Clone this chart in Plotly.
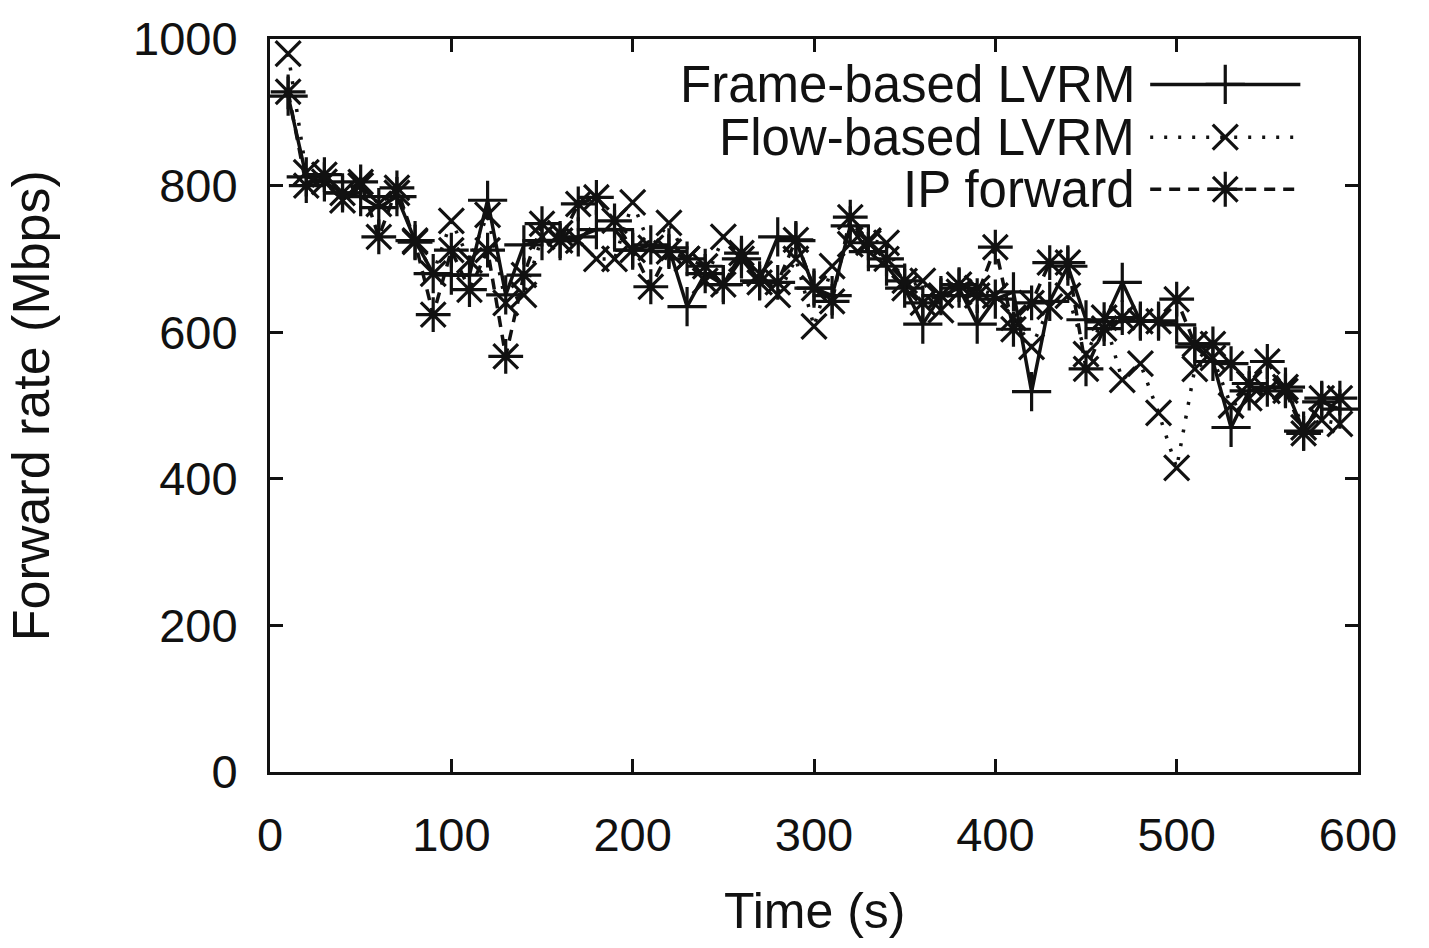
import plotly.graph_objects as go

# ---- data ----
time_s = [10, 20, 30, 40, 50, 60, 70, 80, 90, 100,
          110, 120, 130, 140, 150, 160, 170, 180, 190, 200,
          210, 220, 230, 240, 250, 260, 270, 280, 290, 300,
          310, 320, 330, 340, 350, 360, 370, 380, 390, 400,
          410, 420, 430, 440, 450, 460, 470, 480, 490, 500,
          510, 520, 530, 540, 550, 560, 570, 580, 590]

frame_based = [922, 812, 805, 790, 785, 770, 785, 725, 680, 678,
               678, 780, 651, 719, 725, 725, 730, 740, 740, 712,
               719, 715, 635, 680, 665, 700, 670, 730, 725, 660,
               650, 745, 710, 690, 660, 611, 650, 660, 611, 645,
               655, 519, 642, 690, 617, 614, 668, 615, 615, 610,
               580, 560, 470, 520, 525, 525, 465, 505, 495]

flow_based = [980, 818, 805, 780, 800, 775, 790, 725, 680, 752,
              698, 760, 640, 651, 730, 735, 725, 700, 700, 777,
              715, 749, 700, 670, 730, 700, 680, 651, 700, 608,
              690, 720, 725, 722, 660, 670, 630, 655, 660, 650,
              620, 580, 635, 650, 570, 620, 535, 557, 490, 415,
              550, 565, 500, 510, 520, 525, 470, 480, 475]

ip_forward = [928, 800, 815, 790, 805, 730, 797, 723, 624, 712,
              658, 712, 567, 678, 748, 725, 775, 784, 752, 712,
              662, 710, 700, 690, 665, 708, 668, 668, 726, 660,
              642, 757, 722, 700, 670, 640, 650, 665, 650, 716,
              604, 640, 695, 695, 550, 605, 620, 615, 615, 645,
              584, 584, 557, 530, 560, 520, 462, 510, 510]

series_names = ["Frame-based LVRM", "Flow-based LVRM", "IP forward"]

x_ticks = [0, 100, 200, 300, 400, 500, 600]
y_ticks = [0, 200, 400, 600, 800, 1000]

FONT = "Liberation Sans, Arial, sans-serif"
BLACK = "#111111"

styles = [
    dict(dash="solid", symbol="cross-thin-open", size=28),
    dict(dash="3px,11px", symbol="x-thin-open", size=25),
    dict(dash="11px,8px", symbol="asterisk-open", size=29),
]
values = [frame_based, flow_based, ip_forward]

fig = go.Figure()
for name, vals, st in zip(series_names, values, styles):
    fig.add_trace(go.Scatter(
        x=time_s, y=vals, mode="lines+markers", name=name,
        line=dict(color=BLACK, width=3.5, dash=st["dash"]),
        marker=dict(symbol=st["symbol"], size=st["size"], color=BLACK,
                    line=dict(color=BLACK, width=3.2)),
        showlegend=False,
    ))

# ---- custom legend (text right-aligned, sample to the right of text) ----
legend_y = [0.938, 0.866, 0.795]
for name, st, ly in zip(series_names, styles, legend_y):
    fig.add_trace(go.Scatter(
        x=[0.809, 0.878, 0.947], y=[ly, ly, ly], xaxis="x2", yaxis="y2",
        mode="lines", line=dict(color=BLACK, width=3.5, dash=st["dash"]),
        showlegend=False, hoverinfo="skip",
    ))
    fig.add_trace(go.Scatter(
        x=[0.878], y=[ly], xaxis="x2", yaxis="y2", mode="markers",
        marker=dict(symbol=st["symbol"], size=st["size"], color=BLACK,
                    line=dict(color=BLACK, width=3.2)),
        showlegend=False, hoverinfo="skip",
    ))
    fig.add_annotation(
        x=0.797, y=ly, xref="paper", yref="paper", xanchor="right", yanchor="middle",
        text=name, showarrow=False, font=dict(family=FONT, size=51, color=BLACK),
    )

axis_common = dict(
    showgrid=False, zeroline=False, showline=True, linecolor=BLACK, linewidth=3,
    mirror="ticks", ticks="inside", ticklen=13, tickwidth=2.5, tickcolor=BLACK,
    tickfont=dict(family=FONT, size=47, color=BLACK),
)

fig.update_layout(
    width=1429, height=948,
    margin=dict(l=270, r=71, t=32, b=176),
    paper_bgcolor="white", plot_bgcolor="white",
    xaxis=dict(range=[0, 600], tickvals=x_ticks, ticklabelstandoff=20, **axis_common),
    yaxis=dict(range=[0, 1000], tickvals=y_ticks, ticklabelstandoff=20, **axis_common),
    xaxis2=dict(range=[0, 1], overlaying="x", visible=False, anchor="y2"),
    yaxis2=dict(range=[0, 1], overlaying="y", visible=False, anchor="x2"),
)

fig.add_annotation(x=0.5, y=-0.189, xref="paper", yref="paper", xanchor="center",
                   yanchor="middle", text="Time (s)", showarrow=False,
                   font=dict(family=FONT, size=50, color=BLACK))
fig.add_annotation(x=-0.22, y=0.5, xref="paper", yref="paper", xanchor="center",
                   yanchor="middle", text="Forward rate (Mbps)", textangle=-90,
                   showarrow=False, font=dict(family=FONT, size=52, color=BLACK))

fig.write_html("out.html")
